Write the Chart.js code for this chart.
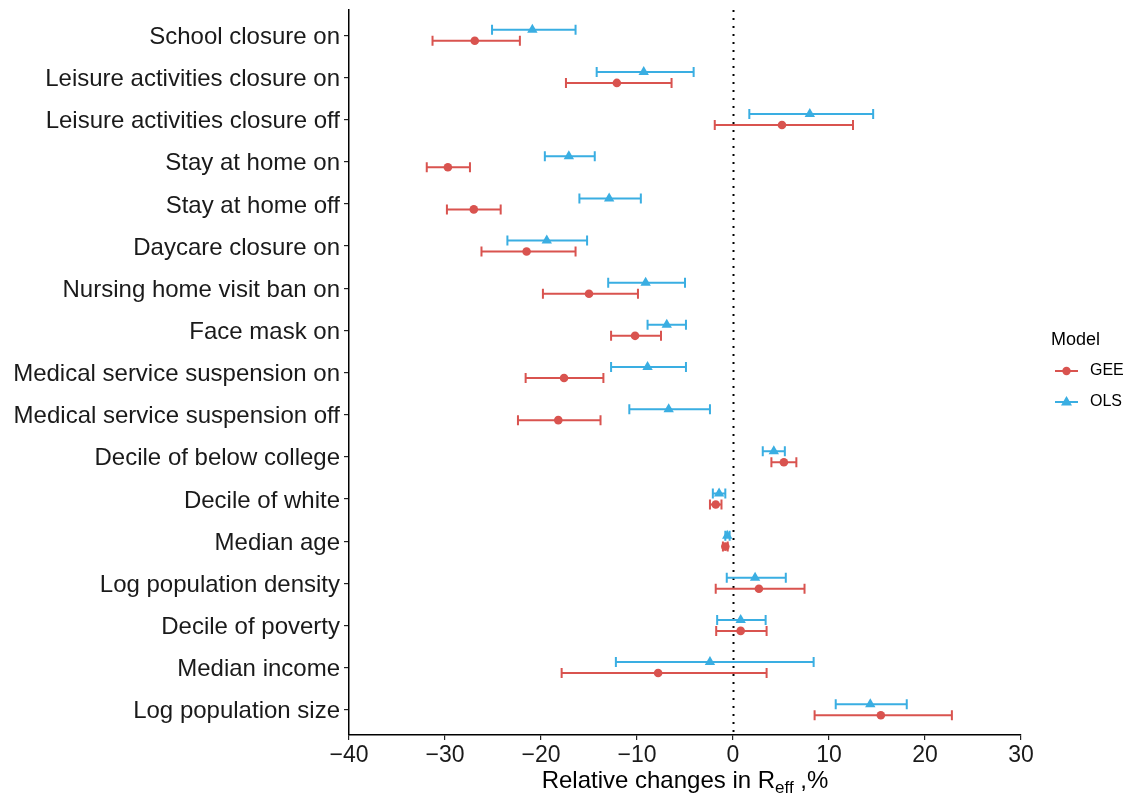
<!DOCTYPE html>
<html>
<head>
<meta charset="utf-8">
<script src="https://cdn.jsdelivr.net/npm/chart.js@4"></script>
<style>
  body { margin: 0; background: #fff; }
  #wrap { width: 1126px; height: 795px; }
</style>
</head>
<body>
<div id="wrap"><canvas id="forest" width="1126" height="795"></canvas></div>
<script>
const categories = [
  "School closure on", "Leisure activities closure on", "Leisure activities closure off",
  "Stay at home on", "Stay at home off", "Daycare closure on", "Nursing home visit ban on",
  "Face mask on", "Medical service suspension on", "Medical service suspension off",
  "Decile of below college", "Decile of white", "Median age", "Log population density",
  "Decile of poverty", "Median income", "Log population size"
];
const xTicks = [-40, -30, -20, -10, 0, 10, 20, 30];

const geeEst  = [-26.9, -12.1, 5.1, -29.7, -27.0, -21.5, -15.0, -10.2, -17.6, -18.2, 5.3, -1.8, -0.8, 2.7, 0.8, -7.8, 15.4];
const geeLow  = [-31.3, -17.4, -1.9, -31.9, -29.8, -26.2, -19.8, -12.7, -21.6, -22.4, 4.0, -2.4, -1.05, -1.8, -1.75, -17.85, 8.5];
const geeHigh = [-22.2, -6.4, 12.5, -27.4, -24.2, -16.4, -9.9, -7.5, -13.5, -13.8, 6.6, -1.2, -0.55, 7.45, 3.5, 3.5, 22.8];

const olsEst  = [-20.9, -9.3, 8.0, -17.1, -12.9, -19.4, -9.1, -6.9, -8.9, -6.7, 4.25, -1.45, -0.6, 2.3, 0.8, -2.4, 14.3];
const olsLow  = [-25.1, -14.2, 1.7, -19.6, -16.0, -23.5, -13.0, -8.9, -12.7, -10.8, 3.1, -2.1, -0.8, -0.65, -1.65, -12.2, 10.7];
const olsHigh = [-16.4, -4.1, 14.6, -14.4, -9.6, -15.2, -5.0, -4.9, -4.9, -2.4, 5.4, -0.8, -0.35, 5.5, 3.4, 8.4, 18.1];

const RED = "#D9534F";
const BLUE = "#3AAEE2";
const DODGE = 0.13;
const FONT = "'Liberation Sans', Arial, sans-serif";

function pts(est, low, high, shift) {
  return est.map((v, i) => ({ x: v, y: i + 1 + shift, lo: low[i], hi: high[i] }));
}

// error bars + zero line, drawn through the scales
const errorBars = {
  id: "errorBars",
  beforeDatasetsDraw(chart) {
    const { ctx, chartArea, scales: { x, y } } = chart;
    ctx.save();
    ctx.strokeStyle = "#000";
    ctx.lineWidth = 2;
    ctx.setLineDash([2, 6]);
    const x0 = Math.round(x.getPixelForValue(0)) + 0.5;
    ctx.beginPath();
    ctx.moveTo(x0, chartArea.top);
    ctx.lineTo(x0, chartArea.bottom);
    ctx.stroke();
    ctx.setLineDash([]);
    chart.data.datasets.forEach(ds => {
      ctx.strokeStyle = ds.borderColor;
      ctx.lineWidth = 2;
      ds.data.forEach(p => {
        const py = y.getPixelForValue(p.y);
        const a = x.getPixelForValue(p.lo), b = x.getPixelForValue(p.hi);
        ctx.beginPath();
        ctx.moveTo(a, py); ctx.lineTo(b, py);
        ctx.moveTo(a, py - 5); ctx.lineTo(a, py + 5);
        ctx.moveTo(b, py - 5); ctx.lineTo(b, py + 5);
        ctx.stroke();
      });
    });
    ctx.restore();
  },
  afterDraw(chart) {
    const { ctx, scales: { x } } = chart;
    ctx.save();
    // x axis title with subscript
    ctx.fillStyle = "#000";
    ctx.textBaseline = "alphabetic";
    const big = "24px " + FONT, small = "17px " + FONT;
    const parts = [["Relative changes in R", big, 0], ["eff", small, 5], [" ,%", big, 0]];
    let total = 0;
    parts.forEach(p => { ctx.font = p[1]; total += ctx.measureText(p[0]).width; });
    let cx = (x.left + x.right) / 2 - total / 2;
    parts.forEach(p => {
      ctx.font = p[1];
      ctx.fillText(p[0], cx, 788 + p[2]);
      cx += ctx.measureText(p[0]).width;
    });
    // legend
    ctx.font = "18px " + FONT;
    ctx.textBaseline = "middle";
    ctx.fillText("Model", 1051, 340);
    ctx.font = "16px " + FONT;
    chart.data.datasets.forEach((ds, i) => {
      const ly = 371 + i * 31;
      ctx.strokeStyle = ds.borderColor;
      ctx.fillStyle = ds.borderColor;
      ctx.lineWidth = 2;
      ctx.beginPath();
      ctx.moveTo(1055, ly); ctx.lineTo(1078, ly);
      ctx.stroke();
      ctx.beginPath();
      if (ds.pointStyle === "triangle") {
        ctx.moveTo(1066.5, ly - 6); ctx.lineTo(1072, ly + 3.5); ctx.lineTo(1061, ly + 3.5);
        ctx.closePath();
      } else {
        ctx.arc(1066.5, ly, 4.2, 0, Math.PI * 2);
      }
      ctx.fill();
      ctx.fillStyle = "#000";
      ctx.fillText(ds.label, 1090, ly);
    });
    ctx.restore();
  }
};

new Chart(document.getElementById("forest"), {
  type: "scatter",
  data: {
    datasets: [
      {
        label: "GEE",
        data: pts(geeEst, geeLow, geeHigh, DODGE),
        borderColor: RED,
        backgroundColor: RED,
        pointStyle: "circle",
        pointRadius: 4.3,
        pointBorderWidth: 0
      },
      {
        label: "OLS",
        data: pts(olsEst, olsLow, olsHigh, -DODGE),
        borderColor: BLUE,
        backgroundColor: BLUE,
        pointStyle: "triangle",
        pointRadius: 6,
        pointBorderWidth: 0
      }
    ]
  },
  options: {
    responsive: false,
    animation: false,
    devicePixelRatio: 1,
    layout: { padding: { top: 10, right: 105, left: 0, bottom: 0 } },
    plugins: { legend: { display: false }, tooltip: { enabled: false } },
    scales: {
      x: {
        type: "linear",
        min: -40, max: 30,
        afterBuildTicks: s => { s.ticks = xTicks.map(v => ({ value: v })); },
        afterFit: s => { s.height = 60; s.paddingLeft = 0; s.paddingRight = 0; },
        ticks: {
          color: "#1a1a1a",
          font: { family: FONT, size: 23 },
          padding: 2,
          maxRotation: 0,
          callback: v => String(v).replace("-", "\u2212")
        },
        grid: { drawOnChartArea: false, drawTicks: true, tickLength: 5, color: "#222", lineWidth: 1.2 },
        border: { color: "#000", width: 1.5 }
      },
      y: {
        type: "linear",
        min: 0.4, max: 17.6,
        reverse: true,
        afterBuildTicks: s => { s.ticks = categories.map((c, i) => ({ value: i + 1 })); },
        afterFit: s => { s.width = 349; s.paddingTop = 0; s.paddingBottom = 0; },
        ticks: {
          color: "#1a1a1a",
          font: { family: FONT, size: 24 },
          padding: 4,
          labelOffset: 2,
          callback: v => categories[v - 1]
        },
        grid: { drawOnChartArea: false, drawTicks: true, tickLength: 5, color: "#222", lineWidth: 1.2 },
        border: { color: "#000", width: 1.5 }
      }
    }
  },
  plugins: [errorBars]
});
</script>
</body>
</html>
